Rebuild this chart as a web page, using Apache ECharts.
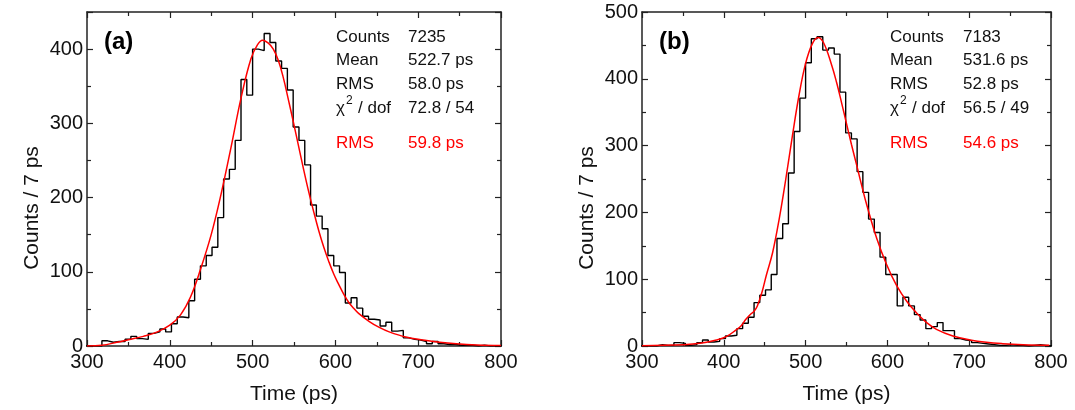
<!DOCTYPE html>
<html><head><meta charset="utf-8">
<script src="https://cdn.jsdelivr.net/npm/echarts@6/dist/echarts.min.js"></script>
<style>html,body{margin:0;padding:0;background:#fff}#c{width:1075px;height:410px}</style>
</head><body><div id="c"></div>
<script>
// ---- data ----
const binWidth = 7;          // ps
const binStart = 297;        // left edge of first bin (ps)
const countsA = [0,0,0,7,5,6,6,9,13,10,9,17,19,23,19,30,39,38,61,90,108,122,133,173,225,238,277,359,338,400,398,421,409,384,374,345,295,277,244,190,175,158,122,108,99,58,65,51,40,36,35,27,32,20,21,11,9,8,6,3,6,3,2,2,1,1,1,0,1,0,0,0];
const countsB = [0,0,0,2,1,1,5,4,1,2,5,9,6,7,11,15,16,26,34,43,65,76,84,107,161,183,259,321,371,424,460,463,443,446,437,380,319,310,261,230,190,170,133,107,107,60,73,60,47,39,26,29,35,23,23,11,9,8,5,4,3,2,1,1,2,1,1,0,1,2,1,0];
const fitTimeA = [300,318,336,350,368,385,400,413,425,437,450,462,474,486,498,506,512,519,525,531,537,543,549,555,561,567.5,574,580,586,592,598,604,610,616,622,628,641,653,665,685,706,726,746,771,800];
const fitValA  = [0,1,5,8.5,13,19,28,42,66,103,150,205,268,334,387,406,412,408,400,385,362,333,303,272,241,209,180,155,133,114,97,83,70,59,51,44,33,25,19,12,8,5,3,1.5,0.7];
const fitTimeB = [300,350,371,391,403,415,421,427,433,437,441,447,452,459.7,467.7,475.8,483.9,491.9,500,508,515,522,532,538,544,550,556,562.6,568,574.8,587,599,611,623.6,636,648,660,680,701,721,741,766,798];
const fitValB  = [0.5,2,4,9,14,24,30,40,48,52,60,82,106,140,190,250,315,375,423,452,462,454,420,394,364,333,302,270,243,211,161,122,91,67,49,35,25,15,9,5.5,3.5,2,1];
const xTicks  = [300,400,500,600,700,800];
const yTicksA = [0,100,200,300,400];
const yMaxA = 450;
const yTicksB = [0,100,200,300,400,500];
const yMaxB = 500;
const statNames = ['Counts','Mean','RMS'];
const statsA = ['7235','522.7 ps','58.0 ps'];
const chiA = '72.8 / 54';
const fitRmsA = '59.8 ps';
const statsB = ['7183','531.6 ps','52.8 ps'];
const chiB = '56.5 / 49';
const fitRmsB = '54.6 ps';
const panelLabels = ['(a)','(b)'];
const xTitle = 'Time (ps)';
const yTitle = 'Counts / 7 ps';

// ---- build ----
function histData(counts){
  const d = counts.map((c,i)=>[binStart+i*binWidth, c]);
  d.push([binStart+counts.length*binWidth, counts[counts.length-1]]);
  return d;
}
function zip(a,b){return a.map((v,i)=>[v,b[i]]);}

const FONT = 'Liberation Sans, Arial, sans-serif';
const AX = '#222';
const grids = [
  {left:87, top:12, width:414, height:335},
  {left:642, top:12, width:409, height:335}
];
const yMax = [yMaxA, yMaxB];
const yT = [yTicksA, yTicksB];
const xAxes = [], yAxes = [];
grids.forEach((g,i)=>{
  const base = {gridIndex:i, type:'value', min:xTicks[0], max:xTicks[xTicks.length-1], interval:100,
    axisLine:{show:true, onZero:false, lineStyle:{color:AX, width:1.5}},
    axisTick:{show:true, inside:true, length:6, lineStyle:{color:AX, width:1.2}},
    minorTick:{show:true, splitNumber:2, length:4, lineStyle:{color:AX, width:1.2}},
    splitLine:{show:false}};
  xAxes.push(Object.assign({}, base, {position:'bottom', name:xTitle, nameLocation:'middle', nameGap:38,
    nameTextStyle:{fontFamily:FONT, fontSize:21, color:'#111'},
    axisLabel:{show:true, margin:6, fontFamily:FONT, fontSize:20, color:'#111'}}));
  xAxes.push(Object.assign({}, base, {position:'top', axisLabel:{show:false}}));
  const ybase = {gridIndex:i, type:'value', min:0, max:yMax[i], interval:100,
    axisLine:{show:true, onZero:false, lineStyle:{color:AX, width:1.5}},
    axisTick:{show:true, inside:true, length:6, lineStyle:{color:AX, width:1.2}},
    minorTick:{show:true, splitNumber:2, length:4, lineStyle:{color:AX, width:1.2}},
    splitLine:{show:false}};
  const ticks = yT[i];
  yAxes.push(Object.assign({}, ybase, {position:'left',
    axisLabel:{show:true, margin:4, fontFamily:FONT, fontSize:20, color:'#111',
      formatter:v=> ticks.indexOf(v)>=0 ? String(v) : ''}}));
  yAxes.push(Object.assign({}, ybase, {position:'right', axisLabel:{show:false}}));
});

const series = [];
[[countsA, fitTimeA, fitValA],[countsB, fitTimeB, fitValB]].forEach((p,i)=>{
  series.push({type:'line', xAxisIndex:2*i, yAxisIndex:2*i, step:'end', data:histData(p[0]),
    showSymbol:false, symbol:'none', clip:true, lineStyle:{color:'#000', width:1.4}, z:2});
  series.push({type:'line', xAxisIndex:2*i, yAxisIndex:2*i, smooth:0.4, data:zip(p[1],p[2]),
    showSymbol:false, symbol:'none', clip:true, lineStyle:{color:'#ff0000', width:1.5}, z:3});
});

const graphic = [];
function txt(x,y,t,opt){
  graphic.push({type:'text', x:x, y:y, z:10, style:Object.assign({text:t, fontFamily:FONT, fontSize:17, fill:'#111', verticalAlign:'middle', align:'left'}, opt||{})});
}
const statX = [[336,408],[890,963]];
const rowsY = [37,60,84,108,143];
[[statsA,chiA,fitRmsA],[statsB,chiB,fitRmsB]].forEach((s,i)=>{
  const [x0,x1] = statX[i];
  statNames.forEach((n,j)=>{ txt(x0, rowsY[j], n); txt(x1, rowsY[j], s[0][j]); });
  txt(x0, rowsY[3], 'χ');
  txt(x0+10, rowsY[3]-7, '2', {fontSize:12});
  txt(x0+22, rowsY[3], '/ dof');
  txt(x1, rowsY[3], s[1]);
  txt(x0, rowsY[4], 'RMS', {fill:'#ff0000'});
  txt(x1, rowsY[4], s[2], {fill:'#ff0000'});
});
txt(104, 42, panelLabels[0], {fontSize:24, fontWeight:'bold', fill:'#000'});
txt(659, 42, panelLabels[1], {fontSize:24, fontWeight:'bold', fill:'#000'});
// rotated y-axis titles
[[32,208],[587,208]].forEach(p=>{
  graphic.push({type:'text', x:p[0], y:p[1], rotation:Math.PI/2, z:10,
    style:{text:yTitle, fontFamily:FONT, fontSize:21, fill:'#111', align:'center', verticalAlign:'middle'}});
});

const chart = echarts.init(document.getElementById('c'), null, {renderer:'canvas'});
chart.setOption({animation:false, backgroundColor:'#fff', grid:grids, xAxis:xAxes, yAxis:yAxes, series:series, graphic:graphic});
</script></body></html>
